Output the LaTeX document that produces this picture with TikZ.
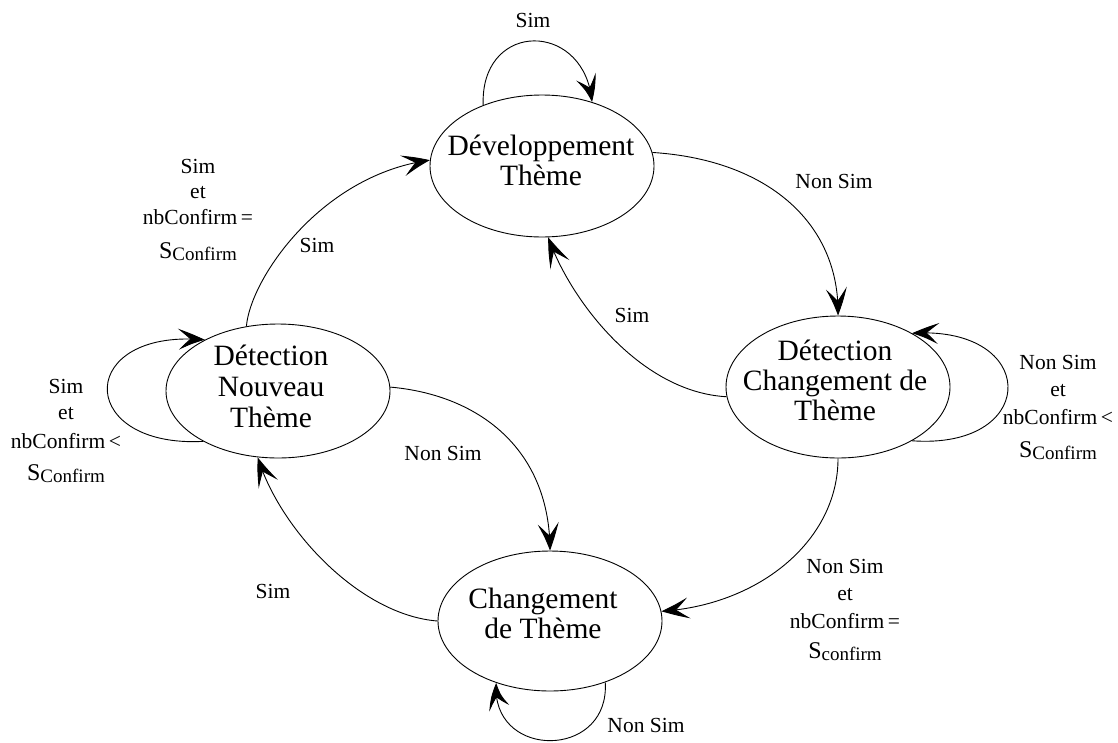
\documentclass[tikz,border=0pt]{standalone}
\usepackage{fontspec}
\setmainfont{Liberation Serif}
\usetikzlibrary{arrows.meta,bending,shapes.geometric}

% stacked lines whose first baseline sits on the node's base anchor
\newcommand{\lblock}[1]{\begin{tabular}[t]{@{}c@{}}#1\end{tabular}}
% threshold symbol: a large S followed by a lowered index
\newcommand{\sconf}[1]{{\fontsize{24}{26}\selectfont S}\raisebox{-2pt}{\fontsize{19}{26}\selectfont #1}}

\tikzset{
  state/.style={draw, ellipse, inner sep=0pt, line width=0.9pt,
                minimum width=224pt},
  statetext/.style={inner sep=0pt, anchor=base,
                font=\fontsize{29.5}{30}\selectfont},
  lbl/.style={inner sep=0pt, anchor=base,
                font=\fontsize{21.5}{26}\selectfont},
  trans/.style={line width=0.9pt,
                -{Stealth[length=28pt,width=21pt,inset=13pt,bend]}}
}

\begin{document}
\begin{tikzpicture}[x=1pt,y=-1pt]
\useasboundingbox (0,0) rectangle (1118,742);

% states
\node[state, minimum height=142pt] (dt)  at (542,166) {};
\node[state, minimum height=134pt] (dnt) at (278,391) {};
\node[state, minimum height=142pt] (dct) at (838,387) {};
\node[state, minimum height=140pt] (ct)  at (550,621) {};

\node[statetext] (dt-t)  at (541,155) {\lblock{Développement\\Thème}};
\node[statetext] (dnt-t) at (271,365) {\lblock{Détection\\[1pt]Nouveau\\[1pt]Thème}};
\node[statetext] (dct-t) at (835,360) {\lblock{Détection\\Changement de\\Thème}};
\node[statetext] (ct-t)  at (543,608) {\lblock{Changement\\de Thème}};

% transitions
\draw[trans] (dt.134) .. controls (480,20) and (585,20) .. (dt.52);
\draw[trans] (dt.7) .. controls (770,160) and (840,225) .. (dct.north);
\draw[trans] (dct.185) .. controls (640,392) and (570,300) .. (dt.275);
\draw[trans] (dnt.116) .. controls (250,280) and (320,175) .. (dt.177);
\draw[trans] (dnt.214) .. controls (75,448) and (75,328) .. (dnt.145);
\draw[trans] (dct.-36) .. controls (1040,450) and (1040,325) .. (dct.36);
\draw[trans] (dnt.2) .. controls (480,395) and (550,450) .. (ct.north);
\draw[trans] (ct.west) .. controls (360,615) and (280,530) .. (dnt.253);
\draw[trans] (dct.south) .. controls (838,540) and (760,605) .. (ct.5);
\draw[trans] (ct.-48) .. controls (610,760) and (490,760) .. (ct.-131);

% transition labels
\node[lbl] (l1) at (533,27)  {Sim};
\node[lbl] (l2) at (834,188) {Non Sim};
\node[lbl] (l3) at (632,322) {Sim};
\node[lbl] (l4) at (198,173) {\lblock{Sim\\[-1pt]et\\nbConfirm\,=\\[8pt]\sconf{Confirm}}};
\node[lbl] (l5) at (317,252) {Sim};
\node[lbl] (l6) at (66,393)  {\lblock{Sim\\et\\[3pt]nbConfirm\,<\\[6pt]\sconf{Confirm}}};
\node[lbl] (l7) at (1058,369) {\lblock{Non Sim\\[1pt]et\\[2pt]nbConfirm\,<\\[7pt]\sconf{Confirm}}};
\node[lbl] (l8) at (443,460) {Non Sim};
\node[lbl] (l9) at (273,598) {Sim};
\node[lbl] (l10) at (845,573) {\lblock{Non Sim\\[1pt]et\\[2pt]nbConfirm\,=\\[4pt]\sconf{confirm}}};
\node[lbl] (l11) at (646,732) {Non Sim};
\end{tikzpicture}
\end{document}
